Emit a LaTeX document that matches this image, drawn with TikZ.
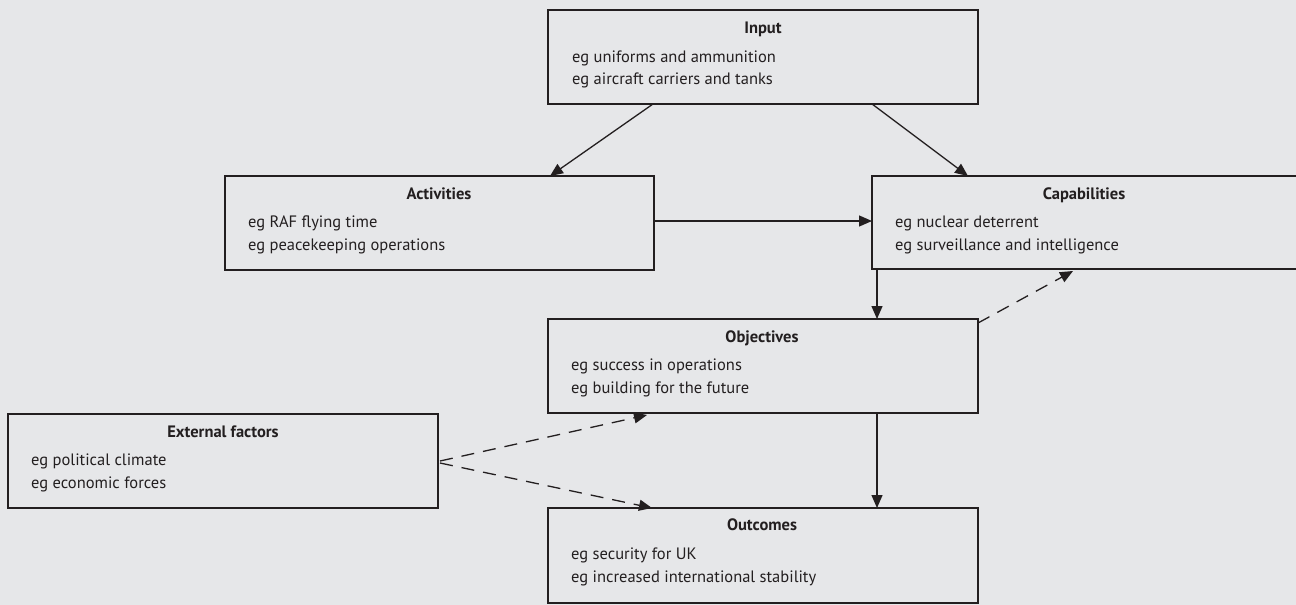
\documentclass[tikz,border=0pt]{standalone}
\usepackage{fontspec}
\setmainfont{PT Sans}
\usetikzlibrary{arrows.meta,calc}
\definecolor{bg}{RGB}{230,231,233}
\definecolor{ink}{RGB}{35,31,32}
\tikzset{
  box/.style={draw=ink, line width=2.2pt, rectangle, inner sep=0pt, outer sep=0pt, anchor=north west},
  ttl/.style={anchor=base, inner sep=0pt, text=ink, font=\fontsize{16.5}{19}\selectfont\bfseries},
  txt/.style={anchor=base west, inner sep=0pt, text=ink, font=\fontsize{16.5}{19}\selectfont},
  arr/.style={draw=ink, line width=1.3pt, -{Triangle[length=13pt,width=11pt]}},
  darr/.style={arr, dash pattern=on 13pt off 9pt},
}
\begin{document}
\begin{tikzpicture}[x=1pt,y=-1pt]
\useasboundingbox[fill=bg] (0,0) rectangle (1296,605);
% boxes
\node[box, minimum width=430, minimum height=94] (input) at (548,10) {};
\node[box, minimum width=429, minimum height=94] (act) at (225,176) {};
\node[box, minimum width=430, minimum height=93] (cap) at (872,176) {};
\node[box, minimum width=430, minimum height=94] (obj) at (548,319) {};
\node[box, minimum width=430, minimum height=94] (ext) at (8,414) {};
\node[box, minimum width=430, minimum height=95] (out) at (548,508) {};
% texts
\node[ttl] (inputT) at (763,33) {Input};
\node[txt] (inputA) at (572,62) {eg uniforms and ammunition};
\node[txt] (inputB) at (572,84) {eg aircraft carriers and tanks};
\node[ttl] (actT) at (439,199) {Activities};
\node[txt] (actA) at (248,227) {eg RAF flying time};
\node[txt] (actB) at (248,250) {eg peacekeeping operations};
\node[ttl] (capT) at (1084,199) {Capabilities};
\node[txt] (capA) at (895,227) {eg nuclear deterrent};
\node[txt] (capB) at (895,250) {eg surveillance and intelligence};
\node[ttl] (objT) at (762,342) {Objectives};
\node[txt] (objA) at (571,370) {eg success in operations};
\node[txt] (objB) at (571,393) {eg building for the future};
\node[ttl] (extT) at (223,437) {External factors};
\node[txt] (extA) at (31,465) {eg political climate};
\node[txt] (extB) at (31,488) {eg economic forces};
\node[ttl] (outT) at (762,530) {Outcomes};
\node[txt] (outA) at (571,559) {eg security for UK};
\node[txt] (outB) at (571,582) {eg increased international stability};
% connectors
\draw[arr] ([xshift=105pt]input.south west) -- ([xshift=325pt]act.north west);
\draw[arr] ([xshift=324pt]input.south west) -- ([xshift=96pt]cap.north west);
\draw[arr] ([yshift=2pt]act.east) -- ([yshift=2pt]act.east -| cap.west);
\draw[arr] ([xshift=5pt]cap.south west) -- ([xshift=5pt]cap.south west |- obj.north);
\draw[arr] ([xshift=329pt]obj.south west) -- ([xshift=329pt]obj.south west |- out.north);
\draw[darr] ([yshift=-4pt]obj.north east) -- ([xshift=201pt,yshift=-2pt]cap.south west);
\draw[darr] ([xshift=2pt]ext.east) -- ([xshift=99pt,yshift=-2pt]obj.south west);
\draw[darr] ([xshift=2pt,yshift=-2pt]ext.east) -- ([xshift=104pt]out.north west);
\end{tikzpicture}
\end{document}
